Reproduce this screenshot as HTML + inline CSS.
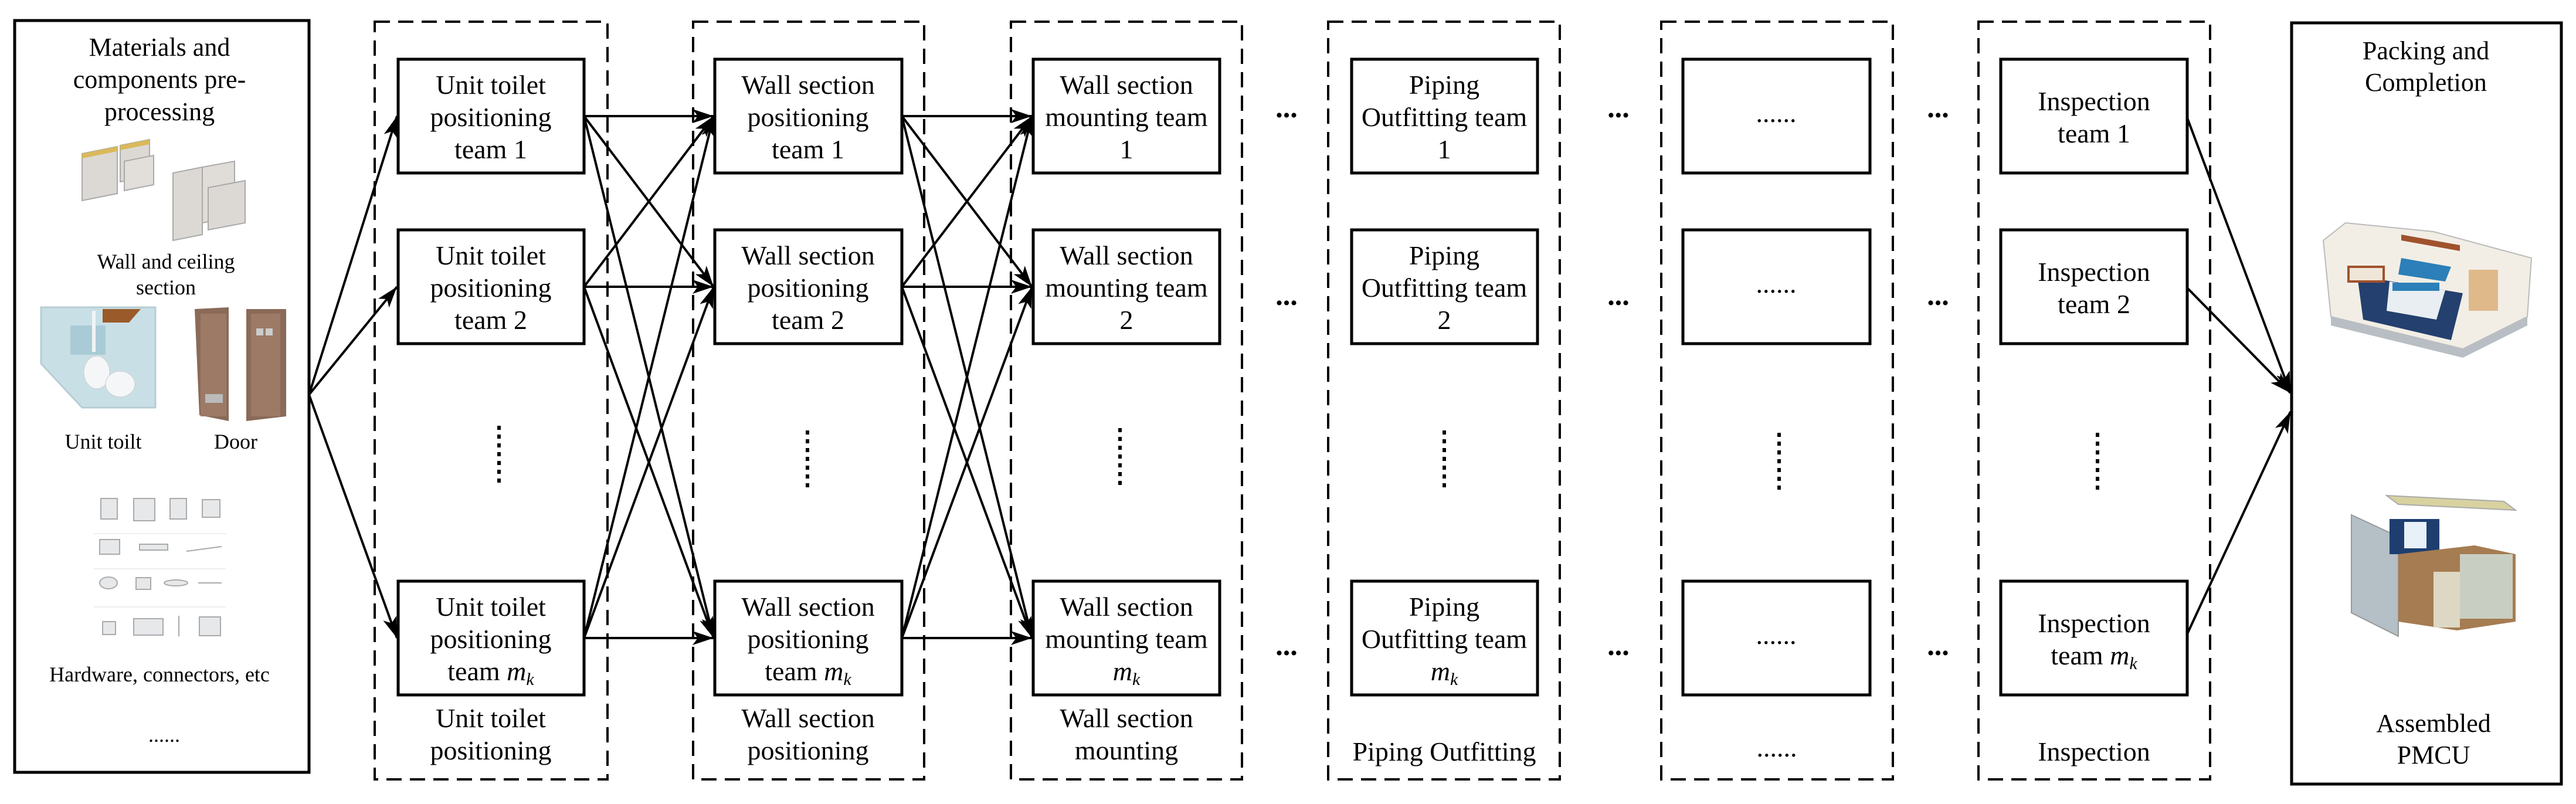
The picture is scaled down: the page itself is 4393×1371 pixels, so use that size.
<!DOCTYPE html>
<html><head><meta charset="utf-8"><style>
html,body{margin:0;padding:0;background:#fff;}
svg{display:block;}
text{font-family:"Liberation Serif",serif;fill:#000;}
</style></head><body>
<svg width="4393" height="1371" viewBox="0 0 4393 1371" xmlns="http://www.w3.org/2000/svg">
<defs>
<marker id="a" markerUnits="userSpaceOnUse" markerWidth="40" markerHeight="26" refX="36" refY="12" orient="auto">
<path d="M0,0 L36,12 L0,24 L9,12 z" fill="#000"/>
</marker>
</defs>
<rect width="4393" height="1371" fill="#fff"/>

<!-- left box -->
<rect x="25" y="35" width="502" height="1282" fill="none" stroke="#000" stroke-width="5"/>
<g font-size="44" text-anchor="middle">
<text x="272" y="95">Materials and</text>
<text x="272" y="150">components pre-</text>
<text x="272" y="205">processing</text>
</g>
<g font-size="36" text-anchor="middle">
<text x="283" y="458">Wall and ceiling</text>
<text x="283" y="502">section</text>
<text x="176" y="765">Unit toilt</text>
<text x="402" y="765">Door</text>
<text x="272" y="1162">Hardware, connectors, etc</text>
<text x="280" y="1265">......</text>
</g>
<!-- wall panels -->
<g>
<polygon points="140,262 200,250 200,330 140,342" fill="#dcd9d4" stroke="#aaa" stroke-width="2"/>
<polygon points="140,262 200,250 200,258 140,270" fill="#d9b95a"/>
<polygon points="205,248 255,238 255,300 205,310" fill="#dcd9d4" stroke="#aaa" stroke-width="2"/>
<polygon points="205,248 255,238 255,246 205,256" fill="#d9b95a"/>
<polygon points="212,275 262,265 262,315 212,325" fill="#e2dfda" stroke="#aaa" stroke-width="2"/>
<polygon points="295,295 345,285 345,400 295,410" fill="#dcd9d4" stroke="#aaa" stroke-width="2"/>
<polygon points="345,285 400,275 400,370 345,380" fill="#e0ddd8" stroke="#aaa" stroke-width="2"/>
<polygon points="355,320 418,308 418,380 355,392" fill="#dcd9d4" stroke="#aaa" stroke-width="2"/>
</g>
<!-- unit toilet -->
<g>
<polygon points="70,524 265,524 265,695 140,695 70,620" fill="#c9dfe6" stroke="#b8cdd4" stroke-width="3"/>
<polygon points="175,527 240,527 220,550 175,550" fill="#9a5a2a"/>
<rect x="120" y="555" width="60" height="50" fill="#a9cbd6"/>
<ellipse cx="165" cy="635" rx="22" ry="28" fill="#f4f6f7" stroke="#ccc"/>
<ellipse cx="205" cy="655" rx="25" ry="22" fill="#f4f6f7" stroke="#ccc"/>
<line x1="160" y1="530" x2="160" y2="600" stroke="#f0f4f5" stroke-width="6"/>
</g>
<!-- doors -->
<g>
<polygon points="332,527 390,524 390,718 340,708" fill="#8a6a58"/>
<rect x="342" y="535" width="44" height="175" fill="#9c7a66"/>
<rect x="350" y="672" width="30" height="15" fill="#bbb"/>
<polygon points="420,527 488,527 488,710 420,718" fill="#8a6a58"/>
<rect x="428" y="535" width="50" height="175" fill="#9c7a66"/>
<rect x="437" y="560" width="12" height="12" fill="#ccc"/>
<rect x="453" y="560" width="12" height="12" fill="#ccc"/>
</g>
<!-- hardware -->
<g fill="#e6e8ea" stroke="#aaa" stroke-width="2">
<rect x="172" y="850" width="28" height="35"/>
<rect x="228" y="850" width="36" height="38"/>
<rect x="290" y="850" width="28" height="35"/>
<rect x="345" y="852" width="30" height="30"/>
<rect x="170" y="920" width="34" height="25"/>
<rect x="238" y="928" width="48" height="10"/>
<line x1="318" y1="940" x2="378" y2="932"/>
<ellipse cx="185" cy="994" rx="15" ry="10"/>
<rect x="232" y="985" width="25" height="20"/>
<ellipse cx="300" cy="994" rx="20" ry="5"/>
<line x1="338" y1="994" x2="378" y2="994"/>
<rect x="175" y="1060" width="22" height="22"/>
<rect x="228" y="1055" width="50" height="28"/>
<line x1="305" y1="1050" x2="305" y2="1085"/>
<rect x="340" y="1052" width="36" height="32"/>
</g>
<g stroke="#eee" stroke-width="2">
<line x1="160" y1="910" x2="385" y2="910"/><line x1="160" y1="970" x2="385" y2="970"/><line x1="160" y1="1035" x2="385" y2="1035"/>
</g>

<!-- dashed columns -->
<g fill="none" stroke="#000" stroke-width="4" stroke-dasharray="26 14">
<rect x="639" y="37" width="397" height="1292"/>
<rect x="1182" y="37" width="394" height="1292"/>
<rect x="1724" y="37" width="394" height="1292"/>
<rect x="2265" y="37" width="395" height="1292"/>
<rect x="2833" y="37" width="395" height="1292"/>
<rect x="3374" y="37" width="395" height="1292"/>
</g>

<!-- boxes -->
<g fill="#fff" stroke="#000" stroke-width="5">
<rect x="679" y="101" width="317" height="194"/><rect x="679" y="392" width="317" height="194"/><rect x="679" y="991" width="317" height="194"/>
<rect x="1219" y="101" width="319" height="194"/><rect x="1219" y="392" width="319" height="194"/><rect x="1219" y="991" width="319" height="194"/>
<rect x="1762" y="101" width="318" height="194"/><rect x="1762" y="392" width="318" height="194"/><rect x="1762" y="991" width="318" height="194"/>
<rect x="2305" y="101" width="317" height="194"/><rect x="2305" y="392" width="317" height="194"/><rect x="2305" y="991" width="317" height="194"/>
<rect x="2870" y="101" width="319" height="194"/><rect x="2870" y="392" width="319" height="194"/><rect x="2870" y="991" width="319" height="194"/>
<rect x="3412" y="101" width="318" height="194"/><rect x="3412" y="392" width="318" height="194"/><rect x="3412" y="991" width="318" height="194"/>
</g>

<!-- right box -->
<rect x="3908" y="39" width="460" height="1298" fill="none" stroke="#000" stroke-width="5"/>
<g font-size="44" text-anchor="middle">
<text x="4137" y="101">Packing and</text>
<text x="4137" y="155">Completion</text>
<text x="4150" y="1248">Assembled</text>
<text x="4150" y="1302">PMCU</text>
</g>
<!-- room image 1 -->
<g>
<polygon points="3962,410 4000,380 4150,395 4317,440 4310,540 4200,595 3975,540" fill="#f2eee6" stroke="#bbb" stroke-width="2"/>
<polygon points="3975,540 4200,595 4310,540 4310,555 4200,610 3975,555" fill="#b9bec4"/>
<polygon points="4020,470 4200,500 4180,580 4030,545" fill="#24406e"/>
<polygon points="4095,440 4180,455 4170,480 4090,468" fill="#2c7fb8"/>
<polygon points="4075,480 4170,495 4155,545 4070,530" fill="#e8eef2"/>
<rect x="4080" y="482" width="80" height="14" fill="#2c7fb8"/>
<rect x="4005" y="455" width="60" height="25" fill="#efe6d8" stroke="#a0522d" stroke-width="4"/>
<polygon points="4095,400 4195,418 4195,428 4095,410" fill="#a0522d"/>
<rect x="4210" y="460" width="50" height="70" fill="#e0b98a"/>
</g>
<!-- room image 2 -->
<g>
<polygon points="4070,845 4270,855 4290,870 4090,860" fill="#d8d2a0" stroke="#aaa" stroke-width="2"/>
<polygon points="4010,878 4090,915 4090,1085 4010,1045" fill="#b4bfc6" stroke="#999" stroke-width="2"/>
<rect x="4075" y="885" width="85" height="60" fill="#1e3e70"/>
<rect x="4100" y="890" width="38" height="45" fill="#e8f0f8"/>
<polygon points="4090,945 4220,930 4290,945 4290,1060 4190,1075 4090,1060" fill="#a67c52"/>
<rect x="4195" y="945" width="90" height="110" fill="#c8cfc2"/>
<rect x="4150" y="975" width="45" height="95" fill="#dcd8c4"/>
</g>

<!-- box text -->
<g font-size="46" text-anchor="middle">
<text x="837" y="160">Unit toilet</text><text x="837" y="215">positioning</text><text x="837" y="270">team  1</text>
<text x="837" y="451">Unit toilet</text><text x="837" y="506">positioning</text><text x="837" y="561">team  2</text>
<text x="837" y="1050">Unit toilet</text><text x="837" y="1105">positioning</text><text x="837" y="1160">team <tspan font-style="italic">m</tspan><tspan font-style="italic" font-size="30" dy="8">k</tspan></text>
<text x="837" y="1240">Unit toilet</text><text x="837" y="1295">positioning</text>

<text x="1378" y="160">Wall section</text><text x="1378" y="215">positioning</text><text x="1378" y="270">team  1</text>
<text x="1378" y="451">Wall section</text><text x="1378" y="506">positioning</text><text x="1378" y="561">team  2</text>
<text x="1378" y="1050">Wall section</text><text x="1378" y="1105">positioning</text><text x="1378" y="1160">team <tspan font-style="italic">m</tspan><tspan font-style="italic" font-size="30" dy="8">k</tspan></text>
<text x="1378" y="1240">Wall section</text><text x="1378" y="1295">positioning</text>

<text x="1921" y="160">Wall section</text><text x="1921" y="215">mounting team</text><text x="1921" y="270">1</text>
<text x="1921" y="451">Wall section</text><text x="1921" y="506">mounting team</text><text x="1921" y="561">2</text>
<text x="1921" y="1050">Wall section</text><text x="1921" y="1105">mounting team</text><text x="1921" y="1160"><tspan font-style="italic">m</tspan><tspan font-style="italic" font-size="30" dy="8">k</tspan></text>
<text x="1921" y="1240">Wall section</text><text x="1921" y="1295">mounting</text>

<text x="2463" y="160">Piping</text><text x="2463" y="215">Outfitting team</text><text x="2463" y="270">1</text>
<text x="2463" y="451">Piping</text><text x="2463" y="506">Outfitting team</text><text x="2463" y="561">2</text>
<text x="2463" y="1050">Piping</text><text x="2463" y="1105">Outfitting team</text><text x="2463" y="1160"><tspan font-style="italic">m</tspan><tspan font-style="italic" font-size="30" dy="8">k</tspan></text>
<text x="2463" y="1297">Piping Outfitting</text>

<text x="3029" y="208">......</text><text x="3029" y="499">......</text><text x="3029" y="1098">......</text>
<text x="3030" y="1290">......</text>

<text x="3571" y="188">Inspection</text><text x="3571" y="243">team  1</text>
<text x="3571" y="479">Inspection</text><text x="3571" y="534">team  2</text>
<text x="3571" y="1078">Inspection</text><text x="3571" y="1133">team <tspan font-style="italic">m</tspan><tspan font-style="italic" font-size="30" dy="8">k</tspan></text>
<text x="3571" y="1297">Inspection</text>
</g>

<!-- horizontal ellipses between columns -->
<g font-size="50" font-weight="bold" text-anchor="middle">
<text x="2194" y="200">...</text><text x="2194" y="520">...</text><text x="2194" y="1117">...</text>
<text x="2760" y="200">...</text><text x="2760" y="520">...</text><text x="2760" y="1117">...</text>
<text x="3305" y="200">...</text><text x="3305" y="520">...</text><text x="3305" y="1117">...</text>
</g>

<!-- vertical dots -->
<g stroke="#000" stroke-width="6" stroke-dasharray="7 8">
<line x1="851" y1="726" x2="851" y2="825"/>
<line x1="1377" y1="734" x2="1377" y2="835"/>
<line x1="1910" y1="730" x2="1910" y2="830"/>
<line x1="2463" y1="734" x2="2463" y2="835"/>
<line x1="3034" y1="738" x2="3034" y2="838"/>
<line x1="3577" y1="738" x2="3577" y2="838"/>
</g>

<!-- connectors -->
<g stroke="#000" stroke-width="4" fill="none" marker-end="url(#a)">
<line x1="527" y1="673" x2="677" y2="198"/>
<line x1="527" y1="673" x2="677" y2="489"/>
<line x1="527" y1="673" x2="677" y2="1088"/>

<line x1="996" y1="198" x2="1217" y2="198"/><line x1="996" y1="198" x2="1217" y2="489"/><line x1="996" y1="198" x2="1217" y2="1088"/>
<line x1="996" y1="489" x2="1217" y2="198"/><line x1="996" y1="489" x2="1217" y2="489"/><line x1="996" y1="489" x2="1217" y2="1088"/>
<line x1="996" y1="1088" x2="1217" y2="198"/><line x1="996" y1="1088" x2="1217" y2="489"/><line x1="996" y1="1088" x2="1217" y2="1088"/>

<line x1="1538" y1="198" x2="1760" y2="198"/><line x1="1538" y1="198" x2="1760" y2="489"/><line x1="1538" y1="198" x2="1760" y2="1088"/>
<line x1="1538" y1="489" x2="1760" y2="198"/><line x1="1538" y1="489" x2="1760" y2="489"/><line x1="1538" y1="489" x2="1760" y2="1088"/>
<line x1="1538" y1="1088" x2="1760" y2="198"/><line x1="1538" y1="1088" x2="1760" y2="489"/><line x1="1538" y1="1088" x2="1760" y2="1088"/>

<line x1="3730" y1="201" x2="3906" y2="670"/>
<line x1="3730" y1="491" x2="3906" y2="670"/>
<line x1="3730" y1="1081" x2="3906" y2="702"/>
</g>
</svg>
</body></html>
